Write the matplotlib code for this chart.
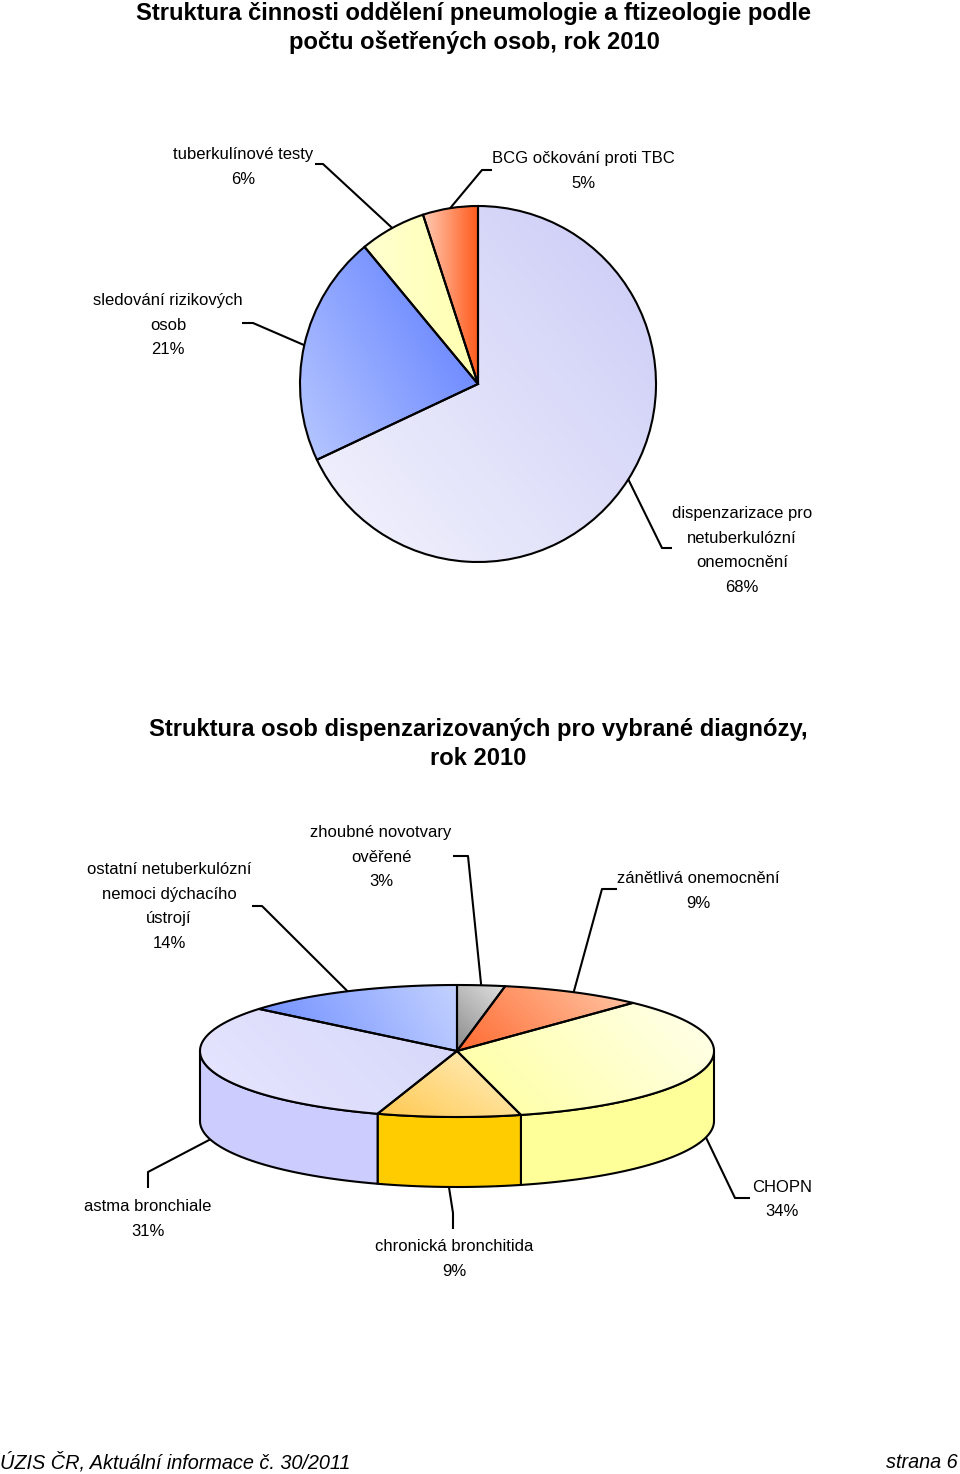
import numpy as np
import matplotlib
matplotlib.use("Agg")
import matplotlib.pyplot as plt
from matplotlib import font_manager
from matplotlib.patches import Polygon
from matplotlib.colors import to_rgb

W, H = 960, 1474

# --- data -------------------------------------------------------------
top_title = ["Struktura činnosti oddělení pneumologie a ftizeologie podle",
             "počtu ošetřených osob, rok 2010"]
top_labels = ["dispenzarizace pro\nnetuberkulózní\nonemocnění",
              "sledování rizikových\nosob",
              "tuberkulínové testy",
              "BCG očkování proti TBC"]
top_values = [68, 21, 6, 5]

bot_title = ["Struktura osob dispenzarizovaných pro vybrané diagnózy,",
             "rok 2010"]
bot_labels = ["zhoubné novotvary\nověřené",
              "zánětlivá onemocnění",
              "CHOPN",
              "chronická bronchitida",
              "astma bronchiale",
              "ostatní netuberkulózní\nnemoci dýchacího\nústrojí"]
bot_values = [3, 9, 34, 9, 31, 14]

footer_left = "ÚZIS ČR, Aktuální informace č. 30/2011"
footer_right = "strana 6"

# --- styles -----------------------------------------------------------
# (start colour, end colour, gradient direction in degrees)
top_grad = [("#f3f3fd", "#cbcbf7", 40),
            ("#b8c8ff", "#5878ff", 30),
            ("#ffffd0", "#ffffb0", 0),
            ("#ffcab4", "#ff5a1a", 0)]
bot_grad = [("#8a8a8a", "#e2e2e2", 45),
            ("#ff6a30", "#ffc8a8", 45),
            ("#ffff9e", "#ffffee", 45),
            ("#ffc850", "#fff2c8", 60),
            ("#e6e6ff", "#d6d6fa", 45),
            ("#6a8aff", "#c4d2ff", 30)]
bot_side = ["#b0b0b0", "#ff9060", "#ffff99", "#ffcc00", "#ccccff", "#90a8ff"]

names = {f.name for f in font_manager.fontManager.ttflist}
narrow = "Liberation Sans Narrow" if "Liberation Sans Narrow" in names else "Liberation Sans"
LBL = 12
LINE = 24.5


def yy(y):
    return H - y


def grad_fill(ax, patch, c0, c1, ang, z):
    bb = patch.get_path().get_extents(patch.get_patch_transform())
    n = 200
    X, Y = np.meshgrid(np.linspace(0, 1, n), np.linspace(0, 1, n))
    a = np.radians(ang)
    t = X * np.cos(a) * bb.width + Y * np.sin(a) * bb.height
    t = (t - t.min()) / max(t.max() - t.min(), 1e-9)
    img = (1 - t)[..., None] * np.array(to_rgb(c0)) + t[..., None] * np.array(to_rgb(c1))
    im = ax.imshow(img, extent=(bb.x0, bb.x1, bb.y0, bb.y1), origin="lower",
                   interpolation="bilinear", aspect="auto", zorder=z)
    im.set_clip_path(patch)


def put_lines(ax, cx, y1, lines, size=LBL, weight="normal",
              ha="center", style="normal", gap=LINE):
    for i, ln in enumerate(lines):
        base = y1 + i * gap + 0.36 * size * 100 / 72
        ax.text(cx, yy(base), ln, ha=ha, va="baseline", fontsize=size,
                family=narrow, fontweight=weight, fontstyle=style, color="black")


def leader(ax, pts):
    xs = [p[0] for p in pts]
    ys = [yy(p[1]) for p in pts]
    ax.plot(xs, ys, color="black", lw=1.5, solid_capstyle="butt", zorder=6)


fig = plt.figure(figsize=(W / 100, H / 100), dpi=100)
ax = fig.add_axes([0, 0, 1, 1])

# --- top pie ----------------------------------------------------------
tc, tr = (478, 384), 178
wedges, _ = ax.pie(top_values, center=(tc[0], yy(tc[1])), radius=tr,
                   startangle=90, counterclock=False,
                   wedgeprops=dict(edgecolor="black", linewidth=1.5))
for w, (c0, c1, ang) in zip(wedges, top_grad):
    w.set_facecolor("none")
    w.set_zorder(3)
    grad_fill(ax, w, c0, c1, ang, 2)

top_layout = [(742, 512, [(672, 548), (662, 548)]),
              (168, 299, [(242, 323), (253, 323)]),
              (243, 153, [(315, 164), (323, 164)]),
              (583, 157, [(492, 170), (482, 170)])]
cum = np.cumsum([0] + top_values) / sum(top_values)
for i, (lab, v) in enumerate(zip(top_labels, top_values)):
    cx, y1, elbow = top_layout[i]
    put_lines(ax, cx, y1, lab.split("\n") + [f"{v}%"])
    th = np.pi / 2 - 2 * np.pi * (cum[i] + cum[i + 1]) / 2
    edge = (tc[0] + tr * np.cos(th), tc[1] - tr * np.sin(th))
    leader(ax, elbow + [edge])

put_lines(ax, 474, 11, top_title, size=17.1, weight="bold", gap=29)

# --- bottom 3D pie ----------------------------------------------------
bc, rx, ry, depth = (457, 1051), 257, 66, 70
bcum = np.cumsum([0] + bot_values) / sum(bot_values)


def ell(phi, drop=0):
    th = np.pi / 2 - phi
    return bc[0] + rx * np.cos(th), yy(bc[1] - ry * np.sin(th) + drop)


for i in range(len(bot_values)):
    p0, p1 = 2 * np.pi * bcum[i], 2 * np.pi * bcum[i + 1]
    # front wall
    a0, a1 = max(p0, np.pi / 2), min(p1, 3 * np.pi / 2)
    if a1 > a0:
        ph = np.linspace(a0, a1, 120)
        tx, ty = ell(ph)
        bx, by = ell(ph[::-1], depth)
        side = Polygon(np.column_stack([np.r_[tx, bx], np.r_[ty, by]]),
                       closed=True, facecolor=bot_side[i], edgecolor="black",
                       lw=1.5, joinstyle="round", zorder=2)
        ax.add_patch(side)
    # top face
    ph = np.linspace(p0, p1, 200)
    tx, ty = ell(ph)
    pts = np.column_stack([np.r_[bc[0], tx], np.r_[yy(bc[1]), ty]])
    top = Polygon(pts, closed=True, facecolor="none", edgecolor="black",
                  lw=1.5, joinstyle="round", zorder=4)
    ax.add_patch(top)
    c0, c1, ang = bot_grad[i]
    grad_fill(ax, top, c0, c1, ang, 3)

bot_layout = [(381, 831, [(453, 856), (468, 856)]),
              (698, 877, [(617, 889), (602, 889)]),
              (782, 1186, [(750, 1198), (735, 1198)]),
              (454, 1245, [(453, 1229), (453, 1213)]),
              (148, 1205, [(148, 1188), (148, 1172)]),
              (169, 868, [(252, 906), (262, 906)])]
for i, (lab, v) in enumerate(zip(bot_labels, bot_values)):
    cx, y1, elbow = bot_layout[i]
    put_lines(ax, cx, y1, lab.split("\n") + [f"{v}%"])
    mid = np.pi * (bcum[i] + bcum[i + 1])
    drop = depth if np.pi / 2 < mid < 3 * np.pi / 2 else 0
    ex, ey = ell(mid, drop)
    leader(ax, elbow + [(ex, H - ey)])

put_lines(ax, 478, 727, bot_title, size=17.1, weight="bold", gap=29)

# --- footer -----------------------------------------------------------
put_lines(ax, 0, 1461, [footer_left], size=14.3, ha="left", style="italic")
put_lines(ax, 958, 1461, [footer_right], size=14.3, ha="right", style="italic")

ax.set_xlim(0, W)
ax.set_ylim(0, H)
ax.set_aspect("auto")
ax.axis("off")
fig.savefig("out.png", dpi=100, facecolor="white")
